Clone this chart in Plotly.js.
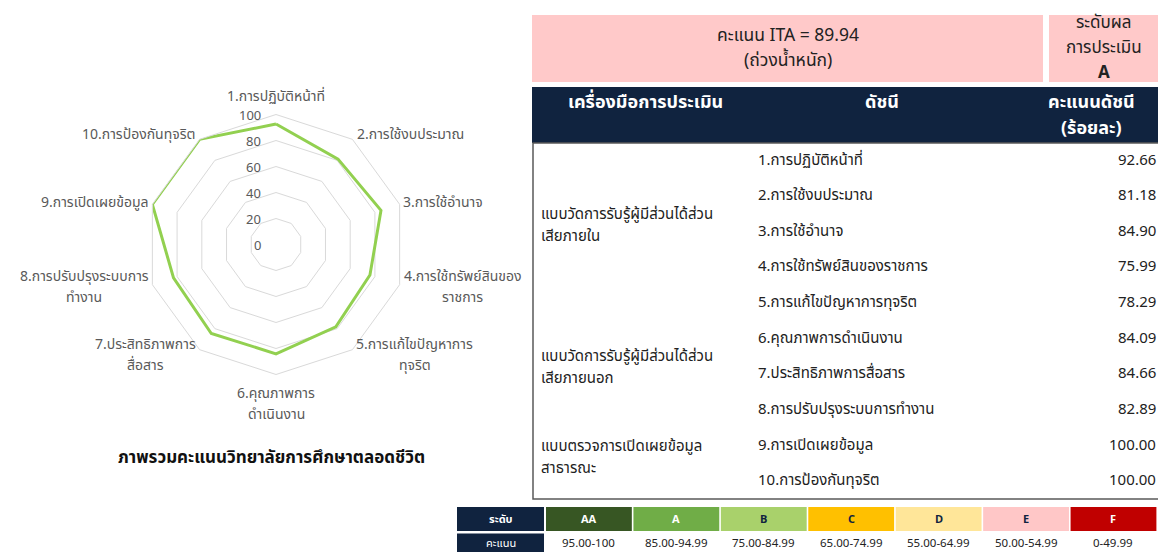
<!DOCTYPE html>
<html>
<head>
<meta charset="utf-8">
<script src="https://cdn.plot.ly/plotly-3.0.1.min.js"></script>
<style>
  html, body { margin: 0; padding: 0; background: #ffffff; }
  #chart { width: 1158px; height: 552px; }
</style>
</head>
<body>
<div id="chart"></div>
<script>
// ---------------- DATA ----------------
const indicators = [
  '1.การปฏิบัติหน้าที่',
  '2.การใช้งบประมาณ',
  '3.การใช้อำนาจ',
  '4.การใช้ทรัพย์สินของราชการ',
  '5.การแก้ไขปัญหาการทุจริต',
  '6.คุณภาพการดำเนินงาน',
  '7.ประสิทธิภาพการสื่อสาร',
  '8.การปรับปรุงระบบการทำงาน',
  '9.การเปิดเผยข้อมูล',
  '10.การป้องกันทุจริต'
];
const radarLabels = [
  ['1.การปฏิบัติหน้าที่'],
  ['2.การใช้งบประมาณ'],
  ['3.การใช้อำนาจ'],
  ['4.การใช้ทรัพย์สินของ', 'ราชการ'],
  ['5.การแก้ไขปัญหาการ', 'ทุจริต'],
  ['6.คุณภาพการ', 'ดำเนินงาน'],
  ['7.ประสิทธิภาพการ', 'สื่อสาร'],
  ['8.การปรับปรุงระบบการ', 'ทำงาน'],
  ['9.การเปิดเผยข้อมูล'],
  ['10.การป้องกันทุจริต']
];
const scores = [92.66, 81.18, 84.90, 75.99, 78.29, 84.09, 84.66, 82.89, 100.00, 100.00];
const radialTicks = [0, 20, 40, 60, 80, 100];
const tools = [
  ['แบบวัดการรับรู้ผู้มีส่วนได้ส่วน', 'เสียภายใน'],
  ['แบบวัดการรับรู้ผู้มีส่วนได้ส่วน', 'เสียภายนอก'],
  ['แบบตรวจการเปิดเผยข้อมูล', 'สาธารณะ']
];
const toolRowCounts = [5, 3, 2];
const headers = [['เครื่องมือการประเมิน'], ['ดัชนี'], ['คะแนนดัชนี', '(ร้อยละ)']];
const itaScore = 89.94;
const itaGrade = 'A';
const grades = ['AA', 'A', 'B', 'C', 'D', 'E', 'F'];
const gradeRanges = ['95.00-100', '85.00-94.99', '75.00-84.99', '65.00-74.99', '55.00-64.99', '50.00-54.99', '0-49.99'];
const chartTitle = 'ภาพรวมคะแนนวิทยาลัยการศึกษาตลอดชีวิต';

// ---------------- STYLE ----------------
const FONT = 'Noto Sans Thai, Noto Sans, DejaVu Sans, sans-serif';
const CANVAS_FONT = '"Noto Sans Thai", "Noto Sans", "DejaVu Sans", sans-serif';
const NAVY = '#10233f';
const PINK = '#ffc9c9';
const gradeFill = ['#375623', '#70ad47', '#a9d16b', '#ffc000', '#ffe699', '#ffc7c7', '#c00000'];
const gradeText = ['#ffffff', '#ffffff', NAVY, NAVY, NAVY, NAVY, '#ffffff'];

const W = 1158, H = 552;
const cx = 276, cy = 244.5, R = 130;

const shapes = [];
const ann = [];
function rect(x0, y0, x1, y1, fill, line, lw) {
  shapes.push({type: 'rect', xref: 'x', yref: 'y', x0, y0, x1, y1,
    fillcolor: fill, line: {color: line || 'rgba(0,0,0,0)', width: lw || 0}, layer: 'below'});
}
function txt(x, y, text, opt) {
  opt = opt || {};
  ann.push({xref: 'x', yref: 'y', x, y, text, showarrow: false, borderpad: 0,
    xanchor: opt.xa || 'center', yanchor: 'middle', align: 'center',
    font: {family: FONT, size: opt.size || 15, color: opt.color || '#222222'}});
}
// each line its own text, lines centred on yc with given spacing
function block(x, yc, lines, spacing, opt) {
  const n = lines.length;
  lines.forEach((l, k) => txt(x, yc + (k - (n - 1) / 2) * spacing, l, opt));
}
const cv = document.createElement('canvas').getContext('2d');
function measure(s, size) { cv.font = size + 'px ' + CANVAS_FONT; return cv.measureText(s).width; }

// Top pink boxes
rect(532, 15, 1043, 82, PINK);
rect(1049, 15, 1158, 82, PINK);
block(787.5, 48, ['คะแนน ITA = ' + itaScore.toFixed(2), '(ถ่วงน้ำหนัก)'], 25, {size: 17.5});
block(1103.5, 47.5, ['ระดับผล', 'การประเมิน', '<b>' + itaGrade + '</b>'], 25, {size: 17});

// Header
rect(532, 87, 1158, 143, NAVY);
const hdrX = [645, 882, 1091];
headers.forEach((h, k) => {
  h.forEach((l, j) => txt(hdrX[k], 102 + j * 26, '<b>' + l + '</b>', {color: '#ffffff', size: 18}));
});

// Body
rect(533, 143, 1160, 499, '#ffffff', '#595959', 1.5);
const rowTop = 160, rowStep = 35.65;
indicators.forEach((name, i) => {
  const y = rowTop + i * rowStep;
  txt(757, y, name, {xa: 'left'});
  txt(1157, y, scores[i].toFixed(2), {xa: 'right'});
});
let start = 0;
tools.forEach((t, k) => {
  const n = toolRowCounts[k];
  const yc = rowTop + (start + (n - 1) / 2) * rowStep - 6;
  block(540, yc, t, 22, {xa: 'left', size: 15});
  start += n;
});

// Grade legend
rect(457, 507, 544, 531, NAVY);
rect(457, 533.5, 544, 553, NAVY);
txt(500.5, 519, '<b>ระดับ</b>', {color: '#ffffff', size: 11});
txt(500.5, 543, 'คะแนน', {color: '#ffffff', size: 11});
const cellW = 87.43;
grades.forEach((g, i) => {
  const x0 = 546 + i * cellW;
  rect(x0, 507, x0 + cellW - 1.6, 531, gradeFill[i]);
  txt(x0 + (cellW - 1.6) / 2, 519, '<b>' + g + '</b>', {color: gradeText[i], size: 11});
  txt(x0 + (cellW - 1.6) / 2, 543.5, gradeRanges[i], {color: '#222222', size: 11.5});
});

// Chart title
txt(271, 458, '<b>' + chartTitle + '</b>', {color: '#111111', size: 17});

// Radar category labels placed around the polygon (from polar geometry)
const LBL = 14, LSP = 21;
radarLabels.forEach((lines, i) => {
  const th = i * 2 * Math.PI / radarLabels.length;
  const s = Math.sin(th), c = Math.cos(th);
  const vx = cx + R * s, vy = cy - R * c;
  const vertical = Math.abs(s) < 0.1;
  const wBlock = Math.max.apply(null, lines.map(l => measure(l, LBL)));
  let x;
  if (vertical) x = vx;
  else if (s > 0) x = vx + 4 + wBlock / 2;
  else x = vx - 4 - wBlock / 2;
  let yc = vy - c * 6;
  if (vertical) yc -= c * (lines.length * 10.5 + 2);
  block(x, yc, lines, LSP, {size: LBL, color: '#595959'});
});
// Radial tick labels, left of the vertical axis
radialTicks.forEach(v => {
  txt(cx - 14, cy - R * v / 100 + 1, String(v), {xa: 'right', size: 13, color: '#595959'});
});

// Radar
const thetaCats = indicators.concat([indicators[0]]);
const r = scores.concat([scores[0]]);
const trace = {
  type: 'scatterpolar', r: r, theta: thetaCats, mode: 'lines',
  line: {color: '#92d050', width: 3}, hoverinfo: 'skip', showlegend: false,
  cliponaxis: false
};

const layout = {
  width: W, height: H,
  margin: {l: 0, r: 0, t: 0, b: 0},
  paper_bgcolor: '#ffffff', plot_bgcolor: 'rgba(0,0,0,0)',
  showlegend: false,
  font: {family: FONT},
  xaxis: {range: [0, W], domain: [0, 1], visible: false, fixedrange: true},
  yaxis: {range: [H, 0], domain: [0, 1], visible: false, fixedrange: true},
  polar: {
    domain: {x: [(cx - R) / W, (cx + R) / W], y: [1 - (cy + R) / H, 1 - (cy - R) / H]},
    bgcolor: 'rgba(0,0,0,0)',
    gridshape: 'linear',
    radialaxis: {
      range: [0, 100], tickvals: radialTicks, angle: 90,
      showline: false, ticks: '', gridcolor: '#d9d9d9', gridwidth: 1,
      showticklabels: false
    },
    angularaxis: {
      type: 'category', categoryarray: indicators, direction: 'clockwise', rotation: 90,
      showgrid: false, showline: true, linecolor: '#d9d9d9', linewidth: 1, ticks: '',
      showticklabels: false
    }
  },
  shapes: shapes,
  annotations: ann
};

Plotly.newPlot('chart', [trace], layout, {displayModeBar: false, staticPlot: true});
</script>
</body>
</html>
